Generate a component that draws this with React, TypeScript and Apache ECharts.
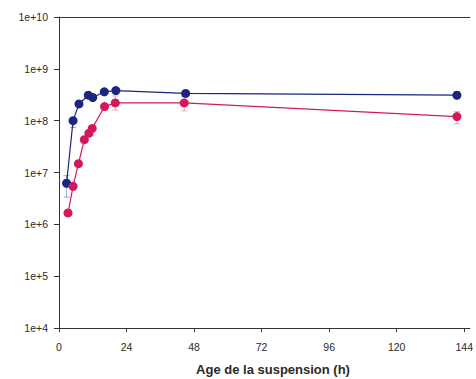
import React, { useEffect, useRef } from "react";
import * as echarts from "echarts";

const xTicks = [0, 24, 48, 72, 96, 120, 144];
const yTickLabels = ["1e+4", "1e+5", "1e+6", "1e+7", "1e+8", "1e+9", "1e+10"];
const xTitle = "Age de la suspension (h)";

const blueHours = [2.7, 5.0, 7.1, 10.4, 12.0, 16.1, 20.2, 45, 141.4];
const blueValues = [6.2e6, 1.0e8, 2.1e8, 3.1e8, 2.8e8, 3.6e8, 3.8e8, 3.35e8, 3.1e8];
const blueLow = [3.35e6, 7.4e7, 1.9e8, 2.9e8, 2.6e8, 3.3e8, 3.4e8, 2.9e8, 2.6e8];
const blueHigh = [8.7e6, 1.1e8, 2.3e8, 3.3e8, 3.0e8, 3.9e8, 4.2e8, 3.8e8, 3.6e8];

const pinkHours = [3.2, 5.0, 6.9, 9.0, 10.6, 11.8, 16.2, 20.0, 44.5, 141.4];
const pinkValues = [1.66e6, 5.4e6, 1.48e7, 4.3e7, 5.7e7, 7.1e7, 1.87e8, 2.2e8, 2.2e8, 1.2e8];
const pinkLow = [1.5e6, 4.6e6, 1.3e7, 3.8e7, 5.0e7, 5.1e7, 1.6e8, 1.6e8, 1.55e8, 8.7e7];
const pinkHigh = [1.8e6, 6.2e6, 1.65e7, 4.8e7, 6.4e7, 8.0e7, 2.1e8, 3.0e8, 2.9e8, 1.5e8];

const BLUE = "#1c2580";
const PINK = "#d3195c";

function errSeries(hours: number[], lo: number[], hi: number[], color: string) {
  return {
    type: "custom",
    z: 1,
    silent: true,
    data: hours.map((h, i) => [h, lo[i], hi[i]]),
    renderItem: (params: any, api: any) => {
      const pLo = api.coord([api.value(0), api.value(1)]);
      const pHi = api.coord([api.value(0), api.value(2)]);
      const w = 3;
      const style = { stroke: color, lineWidth: 1, opacity: 0.55 };
      return {
        type: "group",
        children: [
          { type: "line", shape: { x1: pLo[0], y1: pLo[1], x2: pHi[0], y2: pHi[1] }, style },
          { type: "line", shape: { x1: pLo[0] - w, y1: pLo[1], x2: pLo[0] + w, y2: pLo[1] }, style },
          { type: "line", shape: { x1: pHi[0] - w, y1: pHi[1], x2: pHi[0] + w, y2: pHi[1] }, style },
        ],
      };
    },
  };
}

export default function App() {
  const ref = useRef<HTMLDivElement>(null);
  useEffect(() => {
    document.body.style.margin = "0";
    const chart = echarts.init(ref.current!, null, { renderer: "svg" });
    const labelStyle = {
      color: "#2a2a2a",
      fontFamily: "Liberation Sans, Arial, sans-serif",
      fontSize: 10.5,
    };
    chart.setOption({
      animation: false,
      backgroundColor: "#ffffff",
      grid: { left: 59, right: 0, top: 17, bottom: 51, containLabel: false },
      xAxis: [
        {
          type: "value",
          min: 0,
          max: 146,
          interval: 24,
          axisLine: { show: true, lineStyle: { color: "#333", width: 1 } },
          axisTick: { show: true, length: 4, inside: false, customValues: xTicks, lineStyle: { color: "#333" } },
          axisLabel: { ...labelStyle, margin: 13, customValues: xTicks, formatter: (v: number) => String(v) },
          splitLine: { show: false },
        },
        {
          type: "value",
          position: "top",
          min: 0,
          max: 146,
          axisLine: { show: true, lineStyle: { color: "#333", width: 1 } },
          axisTick: { show: false },
          axisLabel: { show: false },
          splitLine: { show: false },
        },
      ],
      yAxis: {
        type: "log",
        logBase: 10,
        min: 1e4,
        max: 1e10,
        axisLine: { show: true, lineStyle: { color: "#333", width: 1 } },
        axisTick: { show: true, length: 5, lineStyle: { color: "#333" } },
        axisLabel: {
          ...labelStyle,
          margin: 11,
          formatter: (v: number) => {
            const e = Math.round(Math.log10(v));
            return yTickLabels[e - 4] ?? "";
          },
        },
        splitLine: { show: false },
        minorTick: { show: false },
      },
      graphic: [
        {
          type: "text",
          x: 273,
          y: 369,
          style: {
            text: xTitle,
            fill: "#2a2a2a",
            font: "bold 13px Liberation Sans, Arial, sans-serif",
            align: "center",
            verticalAlign: "middle",
          },
        },
      ],
      series: [
        errSeries(blueHours, blueLow, blueHigh, "#5a6aa8"),
        errSeries(pinkHours, pinkLow, pinkHigh, "#c86a8c"),
        {
          type: "line",
          z: 3,
          data: blueHours.map((h, i) => [h, blueValues[i]]),
          symbol: "circle",
          symbolSize: 9,
          lineStyle: { color: BLUE, width: 1.2 },
          itemStyle: { color: BLUE },
        },
        {
          type: "line",
          z: 3,
          data: pinkHours.map((h, i) => [h, pinkValues[i]]),
          symbol: "circle",
          symbolSize: 9,
          lineStyle: { color: PINK, width: 1.2 },
          itemStyle: { color: PINK },
        },
      ],
    });
    return () => chart.dispose();
  }, []);
  return <div ref={ref} style={{ width: 476, height: 379 }} />;
}
